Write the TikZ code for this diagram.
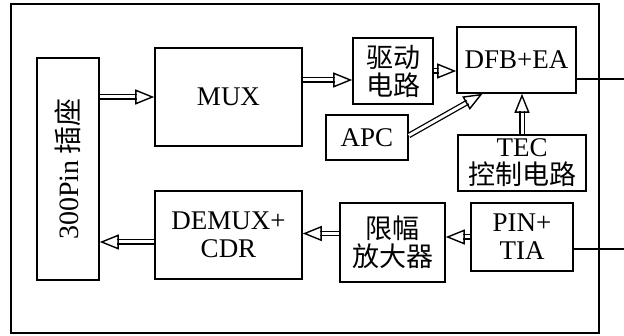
\documentclass[tikz,border=0pt]{standalone}
\usepackage{fontspec}
\setmainfont{Liberation Serif}
\newfontfamily\cjk{Noto Sans CJK SC}
\usetikzlibrary{calc,arrows.meta}

\tikzset{
  box/.style={draw, line width=1.6pt, inner sep=0pt, align=center,
    font=\fontsize{27}{28}\selectfont},
  shaft/.style={double, double distance=3pt, line width=1.3pt},
  head/.style={line width=1.4pt, -{Triangle[open, length=19pt, width=15pt]}},
  outline/.style={line width=1.3pt}
}
% hollow double-line arrow: double shaft plus open triangular head
\newcommand{\hollowarrow}[2]{%
  \draw[shaft] #1 -- ($#2!17pt!#1$);
  \draw[head] ($#2!19pt!#1$) -- #2;}

\begin{document}
\begin{tikzpicture}[x=1pt, y=-1pt]
  \useasboundingbox (0,0) rectangle (624,336);
  \fill[white] (0,0) rectangle (624,336);

  % outer module frame
  \draw[line width=1.7pt] (11,4) rectangle (599,333);

  % blocks
  \node[box, minimum width=62pt, minimum height=222pt] (pin) at (68,169)
    {\rotatebox{90}{\fontsize{28}{28}\selectfont 300Pin\hspace{6pt}{\cjk 插座}}};
  \node[box, minimum width=147pt, minimum height=98pt] (mux) at (228.5,97) {MUX};
  \node[box, minimum width=80pt, minimum height=66pt] (drv) at (393,71) {\cjk 驱动\\\cjk 电路};
  \node[box, minimum width=119pt, minimum height=66pt] (dfb) at (516.5,60) {DFB+EA};
  \node[box, minimum width=82pt, minimum height=45pt] (apc) at (367,137.5) {APC};
  \node[box, minimum width=128pt, minimum height=56pt] (tec) at (522,163) {TEC\\{\cjk 控制电路}};
  \node[box, minimum width=147pt, minimum height=88pt] (demux) at (228.5,235) {DEMUX+\\CDR};
  \node[box, minimum width=105pt, minimum height=79pt] (lim) at (392.5,242.5) {\cjk 限幅\\\cjk 放大器};
  \node[box, minimum width=102pt, minimum height=68pt] (pintia) at (522,237) {PIN+\\TIA};

  % transmit path
  \hollowarrow{(pin.east |- mux.west)}{(mux.west)}
  \coordinate (m1) at ($(mux.east)+(0,-17)$);
  \hollowarrow{(m1)}{(drv.west |- m1)}
  \hollowarrow{(drv.east)}{(dfb.west |- drv.east)}
  \coordinate (a1) at ($(apc.east)+(0,-2)$);
  \coordinate (a2) at ($(dfb.south)+(-34,0)$);
  \hollowarrow{(a1)}{(a2)}
  \hollowarrow{(tec.north)}{(dfb.south -| tec.north)}

  % receive path
  \hollowarrow{(pintia.west)}{(lim.east |- pintia.west)}
  \coordinate (l1) at ($(lim.west)+(0,-9)$);
  \hollowarrow{(l1)}{(demux.east |- l1)}
  \coordinate (d1) at ($(demux.west)+(0,7)$);
  \hollowarrow{(d1)}{(pin.east |- d1)}

  % optical ports
  \coordinate (o1) at ($(dfb.east)+(0,19)$);
  \coordinate (outTx) at (624,79);
  \draw[outline] (o1) -- (outTx);
  \coordinate (o2) at ($(pintia.east)+(0,12)$);
  \coordinate (outRx) at (624,249);
  \draw[outline] (o2) -- (outRx);
\end{tikzpicture}
\end{document}
